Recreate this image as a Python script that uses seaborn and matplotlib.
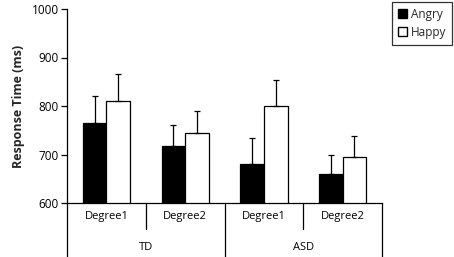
import matplotlib
matplotlib.use("Agg")
import matplotlib.pyplot as plt
import matplotlib.transforms as mtransforms
from matplotlib.patches import Patch
import seaborn as sns
import pandas as pd
import numpy as np

groups = ["TD", "TD", "ASD", "ASD"]
categories = ["Degree1", "Degree2", "Degree1 ", "Degree2 "]
cat_labels = ["Degree1", "Degree2", "Degree1", "Degree2"]
angry = [764, 718, 680, 660]
happy = [811, 744, 801, 694]
angry_err = [57, 43, 55, 40]
happy_err = [55, 46, 53, 45]
group_names = ["TD", "ASD"]

sns.set_theme(style="white")
plt.rcParams['font.family'] = ['Open Sans', 'DejaVu Sans']

df = pd.DataFrame({
    "cat": categories * 2,
    "emotion": ["Angry"] * 4 + ["Happy"] * 4,
    "rt": angry + happy,
})

fig = plt.figure(figsize=(4.54, 2.57), dpi=100)
ax = fig.add_axes([67/454, 1-203/257, (382-67)/454, (203-9)/257])

sns.barplot(data=df, x="cat", y="rt", hue="emotion", order=categories,
            hue_order=["Angry", "Happy"], palette=["black", "white"],
            errorbar=None, width=0.6, edgecolor="black", linewidth=0.9,
            ax=ax, legend=False)

bars = [p for p in ax.patches]
errs = angry_err + happy_err
vals = angry + happy
for p, v, e in zip(bars, vals, errs):
    xc = p.get_x() + p.get_width() / 2
    ax.errorbar([xc], [v], yerr=[[0], [e]], fmt="none", ecolor="black",
                elinewidth=0.9, capsize=2.2, capthick=0.9, zorder=1)

ax.set_ylim(600, 1000)
ax.set_xlim(-0.5, 3.5)
ax.set_yticks([600, 700, 800, 900, 1000])
ax.tick_params(axis="y", labelsize=8.5, length=4, width=0.9, direction="out",
               left=True, pad=2, colors="black")
ax.set_xticks(range(4))
ax.set_xticklabels(cat_labels, fontsize=8)
ax.tick_params(axis="x", length=0, pad=6, colors="black")
ax.set_xlabel("")
ax.set_ylabel("Response Time (ms)", fontsize=9, fontweight="bold", labelpad=5)

for s in ["top", "right"]:
    ax.spines[s].set_visible(False)
for s in ["left", "bottom"]:
    ax.spines[s].set_color("black")
    ax.spines[s].set_linewidth(0.9)

trans = mtransforms.blended_transform_factory(ax.transData, ax.transAxes)
for x in [-0.5, 1.5, 3.5]:
    ax.plot([x, x], [0, -0.3], color="black", lw=0.9, transform=trans, clip_on=False)
for x in [0.5, 2.5]:
    ax.plot([x, x], [0, -0.134], color="black", lw=0.9, transform=trans, clip_on=False)
for i, g in enumerate(group_names):
    ax.text(0.5 + 2 * i, -0.227, g, transform=trans, ha="center", va="center",
            fontsize=8, color="black")

handles = [Patch(facecolor="black", edgecolor="black", label="Angry"),
           Patch(facecolor="white", edgecolor="black", label="Happy")]
leg = fig.legend(handles=handles, loc="upper right", bbox_to_anchor=(452/454, 1-2/257),
                 fontsize=8.5, frameon=True, fancybox=False, handlelength=0.8,
                 handleheight=0.8, handletextpad=0.3, borderpad=0.5, labelspacing=0.4,
                 borderaxespad=0)
leg.get_frame().set_edgecolor("black")
leg.get_frame().set_linewidth(0.9)

fig.savefig("out.png", dpi=100)
